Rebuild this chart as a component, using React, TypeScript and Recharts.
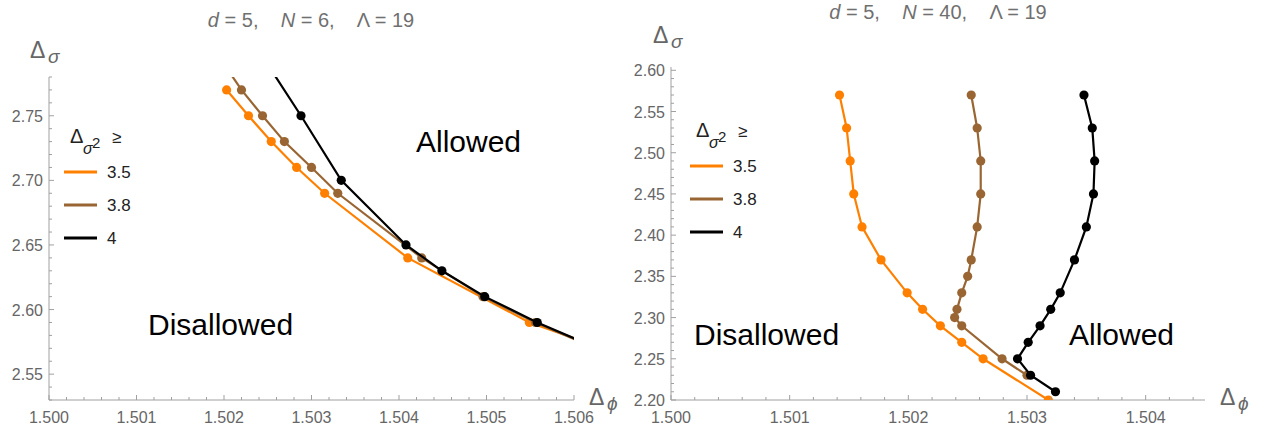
import React from 'react';
import { ScatterChart, Scatter, XAxis, YAxis } from 'recharts';

// panel 1: N = 6
const leftOrangeX = [1.50203, 1.50228, 1.50254, 1.50283, 1.50315, 1.5041, 1.50549, 1.50633];
const leftOrangeY = [2.77, 2.75, 2.73, 2.71, 2.69, 2.64, 2.59, 2.57];
const leftBrownX = [1.502, 1.5022, 1.50244, 1.50269, 1.503, 1.5033, 1.50426, 1.50496, 1.50556, 1.50625];
const leftBrownY = [2.79, 2.77, 2.75, 2.73, 2.71, 2.69, 2.64, 2.61, 2.59, 2.57];
const leftBlackX = [1.5024, 1.50288, 1.50334, 1.50408, 1.50449, 1.50498, 1.50558, 1.50627];
const leftBlackY = [2.8, 2.75, 2.7, 2.65, 2.63, 2.61, 2.59, 2.57];

// panel 2: N = 40
const rightOrangeX = [1.50142, 1.50148, 1.50151, 1.50154, 1.50161, 1.50177, 1.50199, 1.50212, 1.50227, 1.50245, 1.50263, 1.50318];
const rightOrangeY = [2.57, 2.53, 2.49, 2.45, 2.41, 2.37, 2.33, 2.31, 2.29, 2.27, 2.25, 2.2];
const rightBrownX = [1.50253, 1.50258, 1.50261, 1.50261, 1.50258, 1.50253, 1.5025, 1.50245, 1.50241, 1.50239, 1.50245, 1.50279, 1.503];
const rightBrownY = [2.57, 2.53, 2.49, 2.45, 2.41, 2.37, 2.35, 2.33, 2.31, 2.3, 2.29, 2.25, 2.23];
const rightBlackX = [1.50348, 1.50355, 1.50357, 1.50356, 1.5035, 1.5034, 1.50328, 1.5032, 1.50311, 1.50301, 1.50292, 1.50303, 1.50324];
const rightBlackY = [2.57, 2.53, 2.49, 2.45, 2.41, 2.37, 2.33, 2.31, 2.29, 2.27, 2.25, 2.23, 2.21];

const legendLabels = ['3.5', '3.8', '4'];

const leftXMajor = [1.5, 1.501, 1.502, 1.503, 1.504, 1.505, 1.506];
const leftYMajor = [2.55, 2.6, 2.65, 2.7, 2.75];
const rightXMajor = [1.5, 1.501, 1.502, 1.503, 1.504];
const rightYMajor = [2.2, 2.25, 2.3, 2.35, 2.4, 2.45, 2.5, 2.55, 2.6];

const ORANGE = '#ff8000';
const BROWN = '#996633';
const BLACK = '#000000';
const AXIS = '#a0a0a0';
const LABEL = '#666666';
const FONT = '"Liberation Sans", Arial, sans-serif';
const colors = [ORANGE, BROWN, BLACK];

function steps(start: number, stop: number, step: number) {
  const out: number[] = [];
  const n = Math.round((stop - start) / step);
  for (let i = 0; i <= n; i++) out.push(+(start + i * step).toFixed(6));
  return out;
}

const zip = (xs: number[], ys: number[]) => xs.map((x, i) => ({ x, y: ys[i] }));

function XTick(props: any) {
  const { x, y, payload, majors } = props;
  const v = payload.value;
  const major = majors.some((m: number) => Math.abs(m - v) < 1e-7);
  return (
    <g>
      <line x1={x} y1={y} x2={x} y2={y - (major ? 5 : 3)} stroke={AXIS} />
      {major && (
        <text x={x} y={y + 23} textAnchor="middle" fill={LABEL} fontSize={16} fontFamily={FONT}>
          {v.toFixed(3)}
        </text>
      )}
    </g>
  );
}

function YTick(props: any) {
  const { x, y, payload, majors } = props;
  const v = payload.value;
  const major = majors.some((m: number) => Math.abs(m - v) < 1e-7);
  return (
    <g>
      <line x1={x} y1={y} x2={x + (major ? 5 : 3)} y2={y} stroke={AXIS} />
      {major && (
        <text x={x - 6} y={y + 6} textAnchor="end" fill={LABEL} fontSize={16} fontFamily={FONT}>
          {v.toFixed(2)}
        </text>
      )}
    </g>
  );
}

function Panel(props: any) {
  const { left, width, top, bottom, yWidth, right, xDomain, yDomain, xTicks, yTicks, xMajor, yMajor, series } = props;
  return (
    <div style={{ position: 'absolute', left, top: 0 }}>
      <ScatterChart width={width} height={433} margin={{ top, right, bottom: 0, left: 0 }}>
        <XAxis
          type="number"
          dataKey="x"
          domain={xDomain}
          allowDataOverflow
          ticks={xTicks}
          interval={0}
          tickSize={0}
          tickMargin={0}
          height={bottom}
          axisLine={{ stroke: AXIS }}
          tick={(p: any) => <XTick {...p} majors={xMajor} />}
        />
        <YAxis
          type="number"
          dataKey="y"
          domain={yDomain}
          allowDataOverflow
          ticks={yTicks}
          interval={0}
          tickSize={0}
          tickMargin={0}
          width={yWidth}
          axisLine={{ stroke: AXIS }}
          tick={(p: any) => <YTick {...p} majors={yMajor} />}
        />
        {series.map((s: any, i: number) => (
          <Scatter
            key={i}
            data={s}
            fill={colors[i]}
            line={{ stroke: colors[i], strokeWidth: 2.2 }}
            shape={(p: any) => <circle cx={p.cx} cy={p.cy} r={4.6} fill={colors[i]} />}
            isAnimationActive={false}
          />
        ))}
      </ScatterChart>
    </div>
  );
}

function Legend({ x, y }: { x: number; y: number }) {
  return (
    <g fontFamily={FONT}>
      <text x={x + 6} y={y} fontSize={20} fill="#222">Δ</text>
      <text x={x + 19} y={y + 11} fontSize={16} fontStyle="italic" fill="#222">σ</text>
      <text x={x + 28} y={y + 5} fontSize={15} fill="#222">2</text>
      <text x={x + 48} y={y} fontSize={17} fill="#222">≥</text>
      {legendLabels.map((l, i) => (
        <g key={l}>
          <line x1={x} x2={x + 33} y1={y + 29 + i * 33} y2={y + 29 + i * 33} stroke={colors[i]} strokeWidth={3} />
          <text x={x + 43} y={y + 35 + i * 33} fontSize={17} fill="#222">{l}</text>
        </g>
      ))}
    </g>
  );
}

function Title({ cx, y, n }: { cx: number; y: number; n: string }) {
  return (
    <text x={cx} y={y} textAnchor="middle" fontSize={20} fill="#707070" fontFamily={FONT} style={{ whiteSpace: 'pre' }}>
      <tspan fontStyle="italic">d</tspan>
      {' = 5,    '}
      <tspan fontStyle="italic">N</tspan>
      {` = ${n},    Λ = 19`}
    </text>
  );
}

function SymLabel({ x, y, sub }: { x: number; y: number; sub: string }) {
  return (
    <g fontFamily={FONT} fill="#666">
      <text x={x} y={y} fontSize={23}>Δ</text>
      <text x={x + 18} y={y + 5} fontSize={19} fontStyle="italic">{sub}</text>
    </g>
  );
}

export default function App() {
  const leftSeries = [zip(leftOrangeX, leftOrangeY), zip(leftBrownX, leftBrownY), zip(leftBlackX, leftBlackY)];
  const rightSeries = [zip(rightOrangeX, rightOrangeY), zip(rightBrownX, rightBrownY), zip(rightBlackX, rightBlackY)];
  return (
    <div style={{ position: 'absolute', left: 0, top: 0, width: 1271, height: 433, background: '#fff' }}>
      <Panel
        left={0}
        width={640}
        top={77}
        bottom={33}
        yWidth={49}
        right={66}
        xDomain={[1.5, 1.506]}
        yDomain={[2.53, 2.78]}
        xTicks={steps(1.5, 1.506, 0.0002)}
        yTicks={steps(2.53, 2.78, 0.01)}
        xMajor={leftXMajor}
        yMajor={leftYMajor}
        series={leftSeries}
      />
      <Panel
        left={630}
        width={641}
        top={67}
        bottom={33}
        yWidth={41}
        right={66}
        xDomain={[1.5, 1.5045]}
        yDomain={[2.2, 2.604]}
        xTicks={steps(1.5, 1.5044, 0.0002)}
        yTicks={steps(2.2, 2.6, 0.01)}
        xMajor={rightXMajor}
        yMajor={rightYMajor}
        series={rightSeries}
      />
      <svg width={1271} height={433} style={{ position: 'absolute', left: 0, top: 0, pointerEvents: 'none' }}>
        <Title cx={311} y={27} n="6" />
        <Title cx={938} y={19} n="40" />
        <SymLabel x={30} y={58} sub="σ" />
        <SymLabel x={653} y={43} sub="σ" />
        <SymLabel x={589} y={405} sub="ϕ" />
        <SymLabel x={1220} y={405} sub="ϕ" />
        <Legend x={64} y={143} />
        <Legend x={690} y={137} />
        <g fontFamily={FONT} fontSize={30} fill="#000">
          <text x={148} y={335}>Disallowed</text>
          <text x={416} y={152}>Allowed</text>
          <text x={694} y={345}>Disallowed</text>
          <text x={1069} y={345}>Allowed</text>
        </g>
      </svg>
    </div>
  );
}
